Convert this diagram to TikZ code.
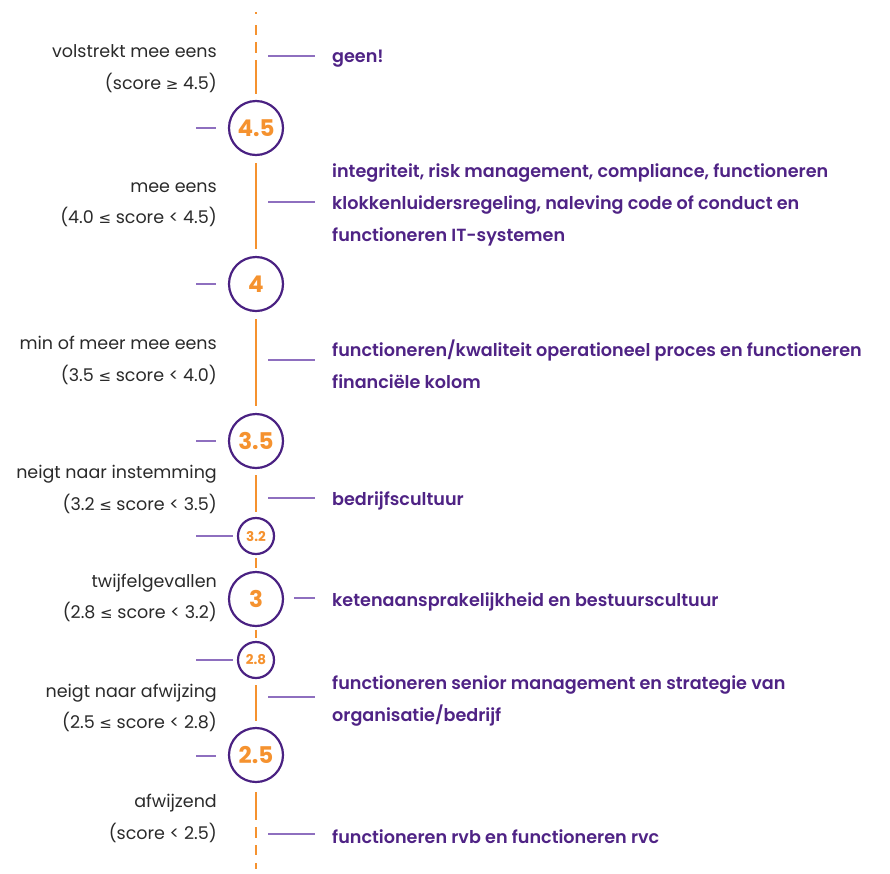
\documentclass[tikz,border=0pt]{standalone}
\usepackage{fontspec}
\setmainfont{Poppins}
\newfontfamily\medf{Poppins SemiBold}
\newfontfamily\symf{DejaVu Sans}
\definecolor{ora}{HTML}{F5922F}
\definecolor{dpur}{HTML}{4A2182}
\definecolor{tpur}{HTML}{4F2385}
\definecolor{lpur}{HTML}{8E6FBF}
\definecolor{gtxt}{HTML}{2A2A2A}
\newcommand{\gee}{{\symf\fontsize{15}{15}\selectfont ≥}}
\newcommand{\lee}{{\symf\fontsize{15}{15}\selectfont ≤}}
\begin{document}
\begin{tikzpicture}[x=1pt,y=-1pt,
  bigc/.style={circle,draw=dpur,line width=2.2pt,minimum size=54pt,inner sep=0pt,text=ora,font=\bfseries\fontsize{23}{23}\selectfont},
  smallc/.style={circle,draw=dpur,line width=2.2pt,minimum size=36pt,inner sep=0pt,text=ora,font=\bfseries\fontsize{13.5}{13.5}\selectfont},
  oline/.style={draw=ora,line width=2.4pt},
  tick/.style={draw=lpur,line width=2pt},
  lbl/.style={anchor=mid east,text=gtxt,font=\fontsize{17.5}{20}\selectfont,inner sep=0pt},
  rlbl/.style={anchor=west,text=tpur,align=left,font=\medf\fontsize{17.6}{32}\selectfont,inner sep=0pt}]
\useasboundingbox (0,0) rectangle (890,873);
% circles
\node[bigc] (c45) at (256,128) {4.5};
\node[bigc] (c4) at (256,284) {4};
\node[bigc] (c35) at (256,441) {3.5};
\node[smallc] (c32) at (256,536) {3.2};
\node[bigc] (c3) at (256,599) {3};
\node[smallc] (c28) at (256,660) {2.8};
\node[bigc] (c25) at (256,755) {2.5};
% orange axis
\coordinate (ttop) at (256,12);
\coordinate (tsol) at (256,60);
\coordinate (bend) at (256,869);
\draw[oline,dash pattern=on 2pt off 11pt on 10pt off 7pt on 11pt off 7pt] (ttop) -- (tsol);
\draw[oline,shorten >=6pt] (tsol) -- (c45);
\draw[oline,shorten <=7pt,shorten >=7pt] (c45) -- (c4);
\draw[oline,shorten <=7pt,shorten >=7pt] (c4) -- (c35);
\draw[oline,shorten <=6pt,shorten >=5pt] (c35) -- (c32);
\draw[oline,shorten <=2.5pt,shorten >=2.5pt] (c32) -- (c3);
\draw[oline,shorten <=2.5pt,shorten >=2.5pt] (c3) -- (c28);
\draw[oline,shorten <=6pt,shorten >=6pt] (c28) -- (c25);
\draw[oline,shorten <=9pt,dash pattern=on 28pt off 7pt on 11pt off 7pt on 10pt off 8pt on 20pt] (c25) -- (bend);
% left ticks at circles
\draw[tick] (196,128) -- (216,128);
\draw[tick] (196,284) -- (216,284);
\draw[tick] (196,441) -- (216,441);
\draw[tick] (196,536) -- (233,536);
\draw[tick] (196,660) -- (233,660);
\draw[tick] (196,756) -- (216,756);
% right ticks
\draw[tick] (268,56) -- (315,56);
\draw[tick] (268,202) -- (315,202);
\draw[tick] (268,360) -- (315,360);
\draw[tick] (268,498) -- (315,498);
\draw[tick] (294,598) -- (315,598);
\draw[tick] (268,697) -- (315,697);
\draw[tick] (268,834) -- (315,834);
% left labels
\node[lbl] (l1a) at (217,55) {volstrekt mee eens};
\node[lbl] (l1b) at (217,87) {(score \gee{} 4.5)};
\node[lbl] (l2a) at (217,190) {mee eens};
\node[lbl] (l2b) at (217,221) {(4.0 \lee{} score < 4.5)};
\node[lbl] (l3a) at (217,347) {min of meer mee eens};
\node[lbl] (l3b) at (217,379) {(3.5 \lee{} score < 4.0)};
\node[lbl] (l4a) at (217,476) {neigt naar instemming};
\node[lbl] (l4b) at (217,508) {(3.2 \lee{} score < 3.5)};
\node[lbl] (l5a) at (217,585) {twijfelgevallen};
\node[lbl] (l5b) at (217,616) {(2.8 \lee{} score < 3.2)};
\node[lbl] (l6a) at (217,695) {neigt naar afwijzing};
\node[lbl] (l6b) at (217,726) {(2.5 \lee{} score < 2.8)};
\node[lbl] (l7a) at (217,805) {afwijzend};
\node[lbl] (l7b) at (217,837) {(score < 2.5)};
% right labels
\node[rlbl] (r1) at (332,59) {geen!};
\node[rlbl] (r2) at (332,205) {integriteit, risk management, compliance, functioneren\\klokkenluidersregeling, naleving code of conduct en\\functioneren IT-systemen};
\node[rlbl] (r3) at (332,364) {functioneren/kwaliteit operationeel proces en functioneren\\financiële kolom};
\node[rlbl] (r4) at (332,501) {bedrijfscultuur};
\node[rlbl] (r5) at (332,602) {ketenaansprakelijkheid en bestuurscultuur};
\node[rlbl] (r6) at (332,701) {functioneren senior management en strategie van\\organisatie/bedrijf};
\node[rlbl] (r7) at (332,837) {functioneren rvb en functioneren rvc};
\end{tikzpicture}
\end{document}
